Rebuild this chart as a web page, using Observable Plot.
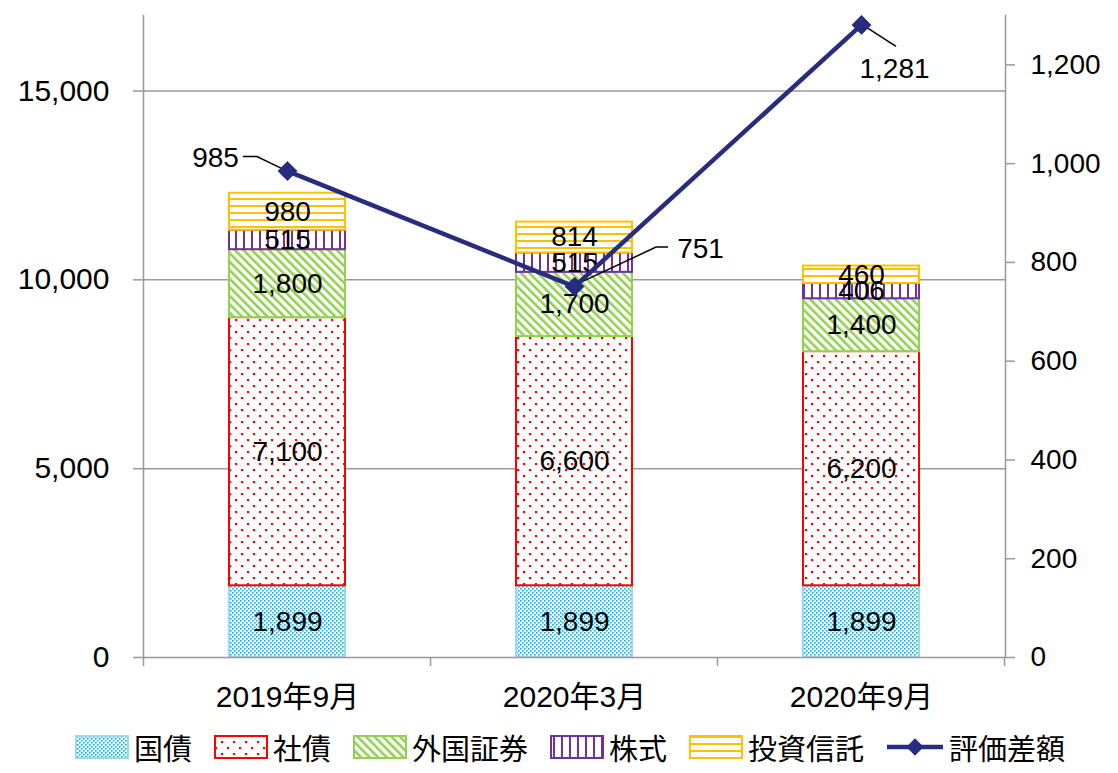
<!DOCTYPE html>
<html>
<head>
<meta charset="utf-8">
<script src="https://cdn.jsdelivr.net/npm/d3@7"></script>
<script src="https://cdn.jsdelivr.net/npm/@observablehq/plot@0.6"></script>
<style>
  html, body { margin: 0; padding: 0; background: #fff; }
  body { width: 1118px; height: 773px; overflow: hidden; font-family: "Liberation Sans", "Noto Sans CJK JP", sans-serif; }
  #legend { display: flex; justify-content: center; align-items: center; height: 53px; margin-top: 0; padding-left: 22px; font-family: "Noto Sans CJK JP", "Liberation Sans", sans-serif; font-size: 29px; color: #000; }
  .item { display: flex; align-items: center; margin: 0 11px; }
  .item svg { margin-right: 5px; }
</style>
</head>
<body>
<svg width="0" height="0" style="position:absolute">
  <defs>
    <pattern id="p0" width="4" height="4" patternUnits="userSpaceOnUse">
      <rect width="4" height="4" fill="#fff"/>
      <rect x="0" y="0" width="1.6" height="1.6" fill="#00B0F0"/>
      <rect x="2" y="2" width="1.6" height="1.6" fill="#00B0F0"/>
    </pattern>
    <pattern id="p1" width="12" height="12" patternUnits="userSpaceOnUse">
      <rect width="12" height="12" fill="#fff"/>
      <rect x="1" y="1" width="2.2" height="2.2" fill="#FF0000"/>
      <rect x="7" y="7" width="2.2" height="2.2" fill="#FF0000"/>
    </pattern>
    <pattern id="p2" width="6" height="6" patternUnits="userSpaceOnUse" patternTransform="rotate(-45)">
      <rect width="6" height="6" fill="#fff"/>
      <rect x="0" y="0" width="2.6" height="6" fill="#92D050"/>
    </pattern>
    <pattern id="p3" width="8" height="8" patternUnits="userSpaceOnUse">
      <rect width="8" height="8" fill="#fff"/>
      <rect x="3" y="0" width="2" height="8" fill="#7030A0"/>
    </pattern>
    <pattern id="p4" width="8" height="7" patternUnits="userSpaceOnUse">
      <rect width="8" height="7" fill="#fff"/>
      <rect x="0" y="2" width="8" height="2" fill="#FFC000"/>
    </pattern>
  </defs>
</svg>
<div id="chart"></div>
<div id="legend"></div>
<script>
// ---- data ----
const categories = ["2019年9月", "2020年3月", "2020年9月"];
const seriesNames = ["国債", "社債", "外国証券", "株式", "投資信託"];
const kokusai = [1899, 1899, 1899];
const shasai = [7100, 6600, 6200];
const gaikoku = [1800, 1700, 1400];
const kabushiki = [515, 515, 406];
const toshin = [980, 814, 460];
const lineName = "評価差額";
const hyoka = [985, 751, 1281];
const leftTicks = [0, 5000, 10000, 15000];
const rightTicks = [0, 200, 400, 600, 800, 1000, 1200];

// ---- styles ----
const fills = ["url(#p0)", "url(#p1)", "url(#p2)", "url(#p3)", "url(#p4)"];
const strokes = ["#9ED8E8", "#FF0000", "#92D050", "#7030A0", "#FFC000"];
const lineColor = "#282C7E";
const leftMax = 17000, rightMax = 1300;
const k = leftMax / rightMax;
const fmt = d3.format(",");
const font = "'Liberation Sans', 'Noto Sans CJK JP', sans-serif";

const seriesValues = [kokusai, shasai, gaikoku, kabushiki, toshin];
const stackData = [];
seriesNames.forEach((s, si) => {
  categories.forEach((c, ci) => {
    stackData.push({cat: c, series: s, si, value: seriesValues[si][ci]});
  });
});
const lineData = categories.map((c, i) => ({cat: c, v: hyoka[i]}));
// label offsets (pixels) for line value labels and leader lines
const lineLabelOffsets = [[-72, -13], [126, -38], [33, 44]];
const leaders = [
  [[-5, -2], [-30, -14], [-44, -14]],
  [[5, -3], [82, -39], [94, -39]],
  [[4, 2], [35, 22]]
];

const plot = Plot.plot({
  width: 1118,
  height: 720,
  marginLeft: 143,
  marginRight: 113,
  marginTop: 15,
  marginBottom: 63,
  style: {fontFamily: font, fontSize: "28px", color: "#000", background: "#fff"},
  x: {domain: categories, paddingInner: 0.596, paddingOuter: 0.298, align: 0.5, axis: null},
  y: {domain: [0, leftMax], axis: null},
  color: {type: "identity"},
  marks: [
    Plot.gridY(leftTicks.slice(1), {stroke: "#999", strokeOpacity: 1, strokeWidth: 1.5}),
    Plot.barY(stackData, Plot.stackY({
      x: "cat", y: "value", z: "series",
      fill: d => fills[d.si], stroke: d => strokes[d.si], strokeWidth: 2
    })),
    Plot.text(stackData, Plot.stackY({
      x: "cat", y: "value", z: "series",
      text: d => fmt(d.value), fill: "#000", fontSize: 28
    })),
    Plot.axisY(leftTicks, {anchor: "left", label: null, tickSize: 10, tickPadding: 24, stroke: "#999", strokeWidth: 1.5, fill: "#000", fontSize: 30, tickFormat: fmt}),
    Plot.axisY(rightTicks.map(v => v * k), {anchor: "right", label: null, tickSize: 9, tickPadding: 16, stroke: "#999", strokeWidth: 1.5, fill: "#000", fontSize: 28, tickFormat: d => fmt(Math.round(d / k))}),
    Plot.axisX({anchor: "bottom", label: null, tickSize: 0, tickPadding: 28, fill: "#000", fontSize: 30}),
    Plot.frame({anchor: "left", stroke: "#999", strokeWidth: 1.5}),
    Plot.frame({anchor: "right", stroke: "#999", strokeWidth: 1.5}),
    Plot.ruleY([0], {stroke: "#999", strokeWidth: 1.5}),
    Plot.line(lineData, {x: "cat", y: d => d.v * k, stroke: lineColor, strokeWidth: 4.5}),
    Plot.dot(lineData, {x: "cat", y: d => d.v * k, symbol: "diamond2", r: 8, fill: lineColor, stroke: lineColor}),
    ...lineData.map((d, i) => Plot.text([d], {
      x: "cat", y: e => e.v * k, text: e => fmt(e.v), fill: "#000", fontSize: 28,
      dx: lineLabelOffsets[i][0], dy: lineLabelOffsets[i][1]
    }))
  ]
});

document.getElementById("chart").appendChild(plot);

// Post-process: leader lines and category boundary ticks, via the plot's scales
const xs = plot.scale("x"), ys = plot.scale("y");
const svg = d3.select(plot.tagName.toLowerCase() === "svg" ? plot : plot.querySelector("svg"));
const bw = xs.bandwidth;
const step = xs.step || (xs.range[1] - xs.range[0]) / categories.length;
const cx = c => xs.apply(c) + bw / 2;

const g = svg.append("g").attr("fill", "none").attr("stroke", "#000").attr("stroke-width", 1.5);
lineData.forEach((d, i) => {
  const px = cx(d.cat), py = ys.apply(d.v * k);
  g.append("polyline").attr("points", leaders[i].map(p => `${px + p[0]},${py + p[1]}`).join(" "));
});
const lineNode = svg.select("g[aria-label='line']").node();
if (lineNode) lineNode.parentNode.insertBefore(g.node(), lineNode);

const y0 = ys.apply(0);
const bounds = categories.map(c => xs.apply(c) - (step - bw) / 2);
bounds.push(xs.apply(categories[categories.length - 1]) + bw + (step - bw) / 2);
const tg = svg.append("g").attr("stroke", "#999").attr("stroke-width", 1.5);
bounds.forEach(b => tg.append("line").attr("x1", b).attr("x2", b).attr("y1", y0).attr("y2", y0 + 9));

// legend
const legend = d3.select("#legend");
seriesNames.forEach((s, i) => {
  const it = legend.append("div").attr("class", "item");
  const sv = it.append("svg").attr("width", 54).attr("height", 26);
  sv.append("rect").attr("x", 1).attr("y", 2).attr("width", 52).attr("height", 22)
    .attr("fill", fills[i]).attr("stroke", strokes[i]).attr("stroke-width", 2);
  it.append("span").text(s);
});
{
  const it = legend.append("div").attr("class", "item");
  const sv = it.append("svg").attr("width", 58).attr("height", 26);
  sv.append("line").attr("x1", 1).attr("x2", 57).attr("y1", 13).attr("y2", 13).attr("stroke", lineColor).attr("stroke-width", 4.5);
  sv.append("path").attr("d", d3.symbol(d3.symbolDiamond2, 190)()).attr("transform", "translate(29,13)").attr("fill", lineColor);
  it.append("span").text(lineName);
}
</script>
</body>
</html>
